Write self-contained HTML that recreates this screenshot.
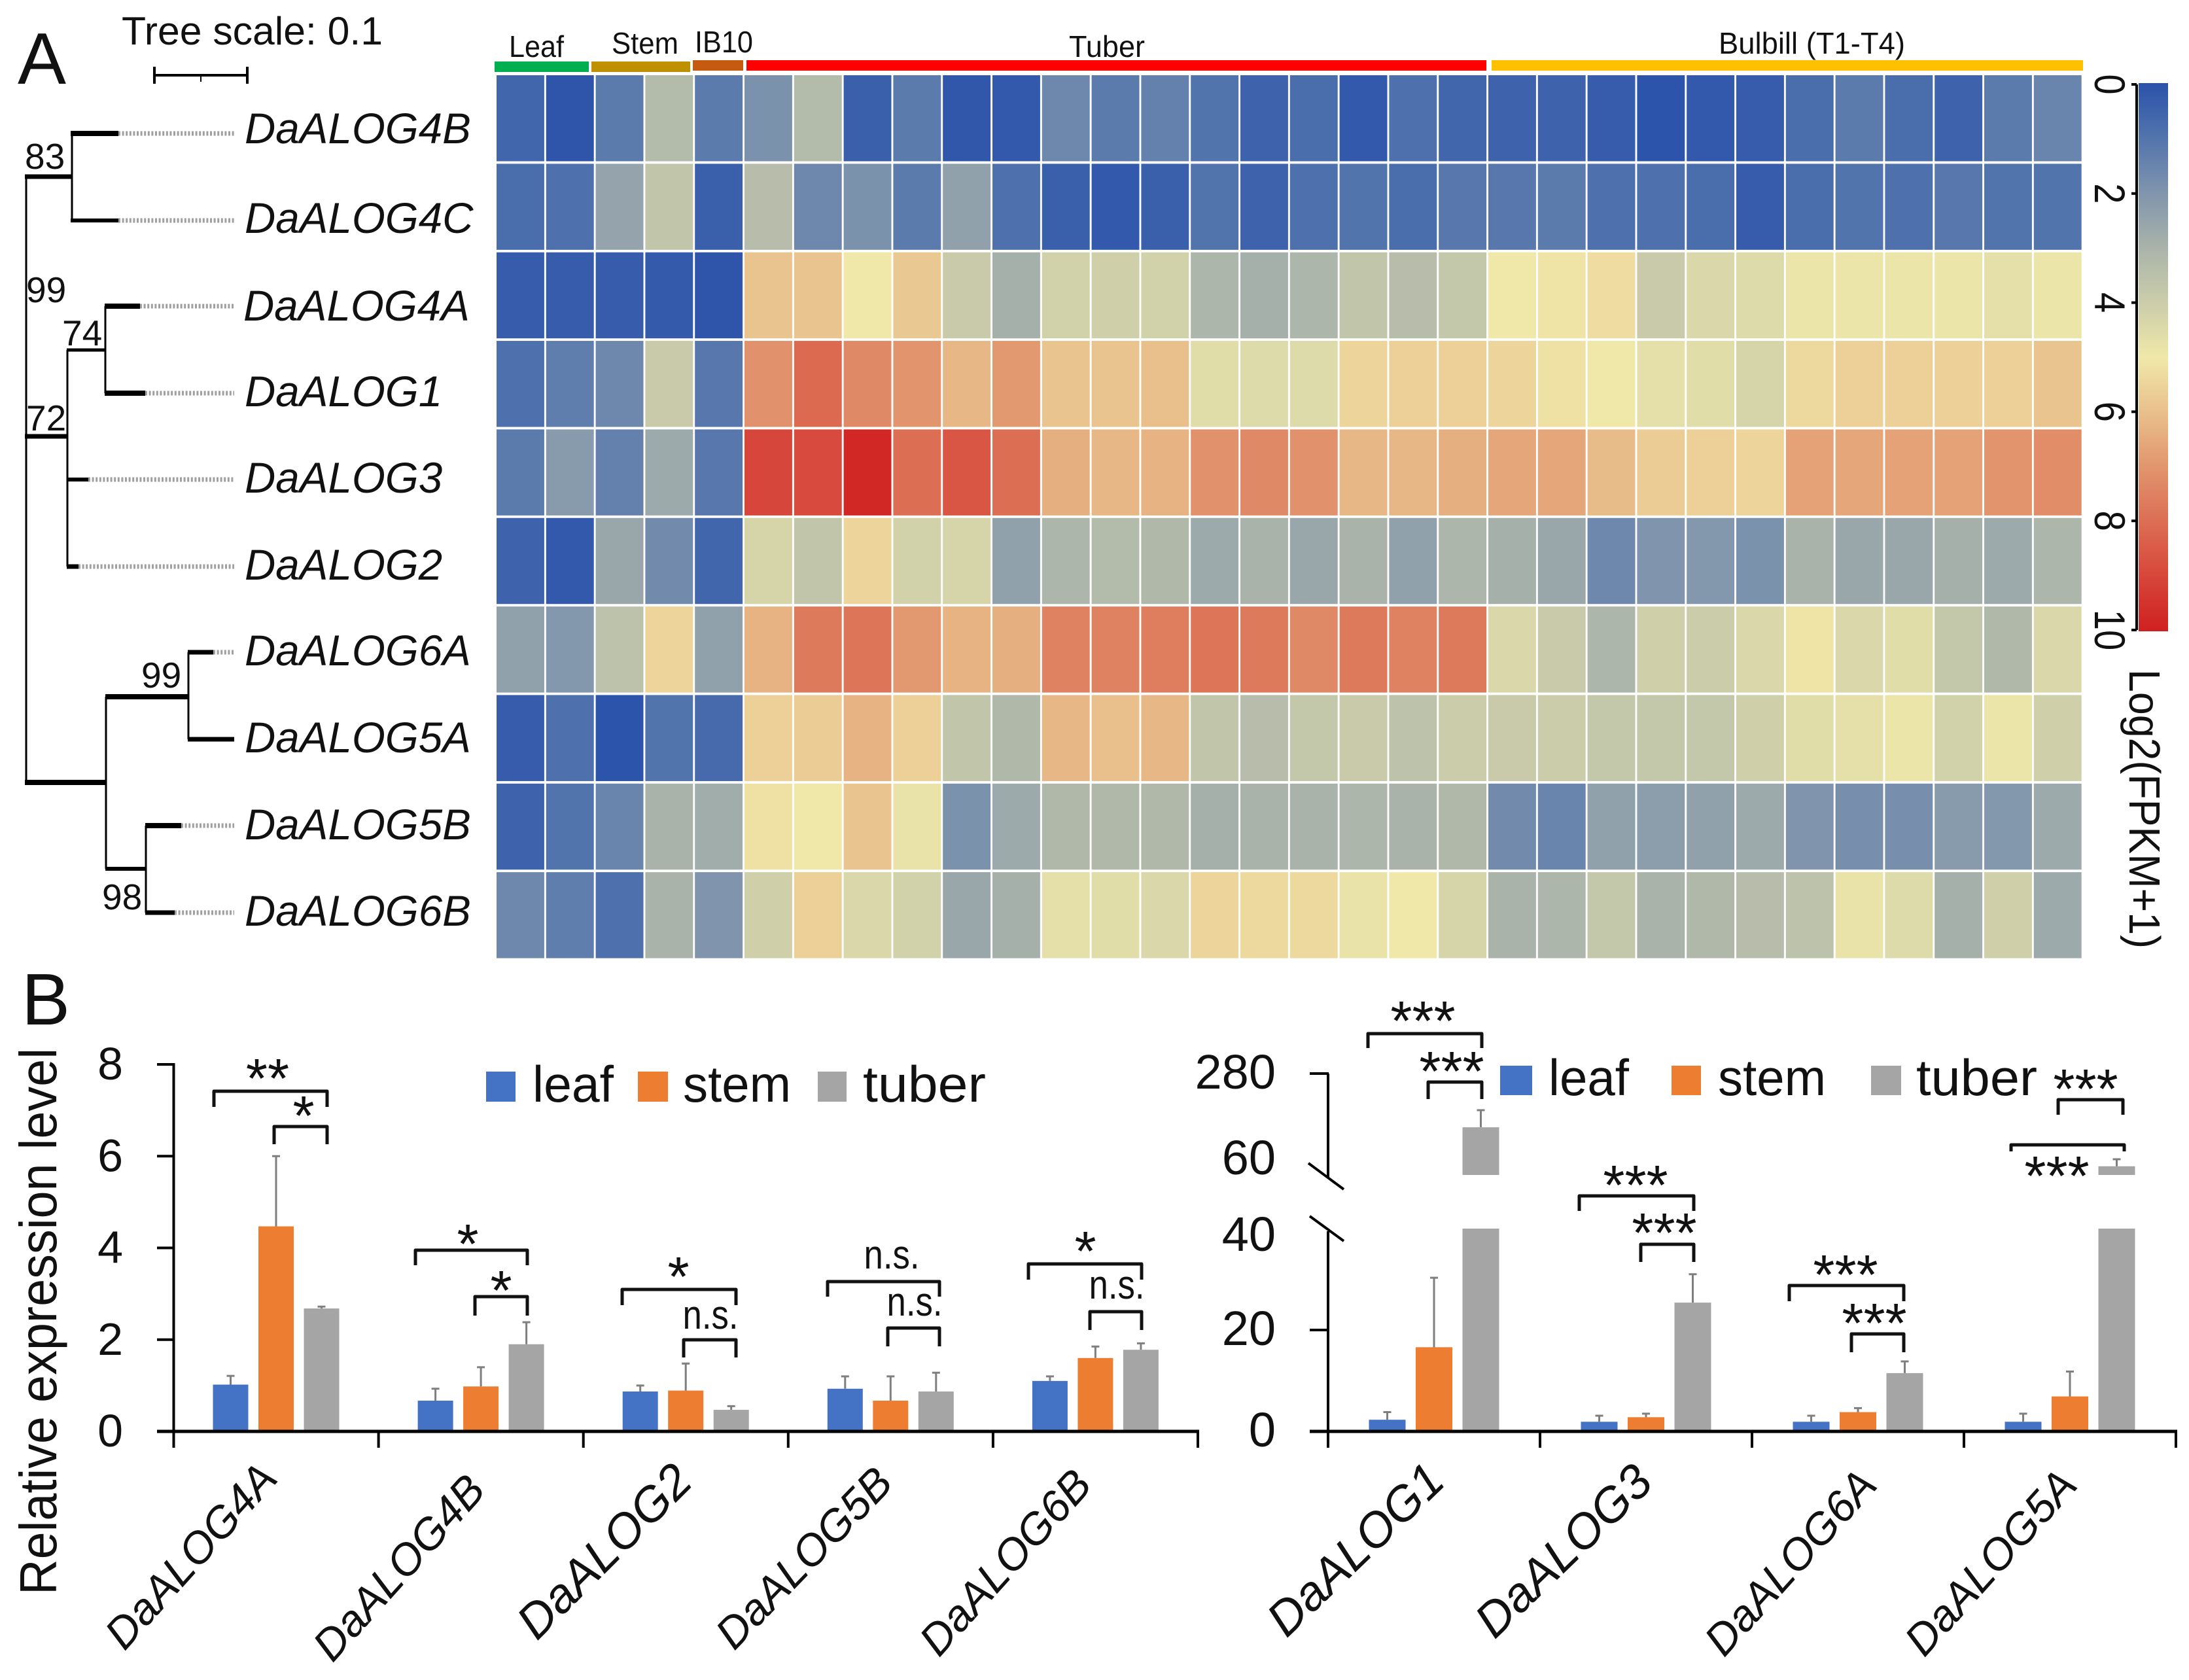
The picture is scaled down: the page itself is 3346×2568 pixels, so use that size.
<!DOCTYPE html>
<html lang="en">
<head>
<meta charset="utf-8">
<title>DaALOG expression figure</title>
<style>
html,body{margin:0;padding:0;background:#fff;}
svg{display:block;}
text{font-family:"Liberation Sans",sans-serif;fill:#111;}
.gene{font-style:italic;font-size:65.5px;}
.xlab{font-style:italic;font-size:67px;}
.xlab7{font-style:italic;font-size:74px;}
.boot{font-size:55px;}
.sig{font-size:85px;text-anchor:middle;}
.ns{font-size:62px;text-anchor:middle;}
.leg{font-size:78px;}
.groupl{font-size:46px;}
.brk{fill:none;stroke:#111;stroke-width:5;stroke-linejoin:round;}
.t{stroke:#000;fill:none;}
.d{stroke:#a0a0a0;stroke-width:7;stroke-dasharray:3 2.6;fill:none;}
</style>
</head>
<body>
<svg id="fig" xmlns="http://www.w3.org/2000/svg" width="3346" height="2568" viewBox="0 0 3346 2568">
<rect width="3346" height="2568" fill="#fff"/>
<defs><linearGradient id="cbGrad" x1="0" y1="0" x2="0" y2="1"></linearGradient></defs>

<text x="27" y="128" font-size="111">A</text>
<text x="186" y="68" font-size="60" textLength="399" lengthAdjust="spacingAndGlyphs">Tree scale: 0.1</text>
<g class="t">
<path d="M236 115H378M236 102V128M378 102V128" stroke-width="4"/><path d="M307 115V125" stroke-width="2"/>
</g>

<g>
<g class="t" stroke-width="3">
<path d="M40 270V1196M110 204V337M103 535V866M161 468V601M162 1065V1328M288 997V1130M223 1262V1395"/>
</g>
<g class="t">
<path d="M38 270H110" stroke-width="7"/>
<path d="M108 204H181" stroke-width="8"/>
<path d="M108 337H181" stroke-width="6"/>
<path d="M38 667H104" stroke-width="7"/>
<path d="M102 535H162" stroke-width="5"/>
<path d="M160 468H214" stroke-width="8"/>
<path d="M160 601H222" stroke-width="8"/>
<path d="M102 733H135" stroke-width="6"/>
<path d="M102 866H120" stroke-width="7"/>
<path d="M38 1196H163" stroke-width="8"/>
<path d="M161 1065H289" stroke-width="8"/>
<path d="M287 997H326" stroke-width="7"/>
<path d="M287 1130H358" stroke-width="7"/>
<path d="M161 1328H224" stroke-width="6"/>
<path d="M222 1262H277" stroke-width="8"/>
<path d="M222 1395H267" stroke-width="7"/>
</g>
<g class="d">
<path d="M181 204H358M181 337H358M214 468H358M222 601H358M135 733H358M120 866H358M326 997H358M277 1262H358M267 1395H358"/>
</g>
</g>

<g>
<text class="boot" x="38" y="258">83</text>
<text class="boot" x="40" y="462">99</text>
<text class="boot" x="95" y="528">74</text>
<text class="boot" x="40" y="658">72</text>
<text class="boot" x="216" y="1051">99</text>
<text class="boot" x="156" y="1390">98</text>
</g>

<g>
<text class="gene" x="374" y="219">DaALOG4B</text>
<text class="gene" x="374" y="356">DaALOG4C</text>
<text class="gene" x="372" y="490">DaALOG4A</text>
<text class="gene" x="374" y="621">DaALOG1</text>
<text class="gene" x="374" y="753">DaALOG3</text>
<text class="gene" x="374" y="886">DaALOG2</text>
<text class="gene" x="374" y="1017">DaALOG6A</text>
<text class="gene" x="374" y="1150">DaALOG5A</text>
<text class="gene" x="374" y="1283">DaALOG5B</text>
<text class="gene" x="374" y="1415">DaALOG6B</text>
</g>

<g>
<rect x="756" y="94" width="144" height="16" fill="#00b050"/>
<rect x="904" y="94" width="151" height="16" fill="#bf9000"/>
<rect x="1059" y="92" width="77" height="16" fill="#c55a11"/>
<rect x="1141" y="92" width="1131" height="16" fill="#ff0000"/>
<rect x="2280" y="92" width="904" height="16" fill="#ffc000"/>
<text class="groupl" x="778" y="87" textLength="84" lengthAdjust="spacingAndGlyphs">Leaf</text>
<text class="groupl" x="935" y="82" textLength="102" lengthAdjust="spacingAndGlyphs">Stem</text>
<text class="groupl" x="1062" y="80" textLength="89" lengthAdjust="spacingAndGlyphs">IB10</text>
<text class="groupl" x="1634" y="87" textLength="116" lengthAdjust="spacingAndGlyphs">Tuber</text>
<text class="groupl" x="2627" y="82" textLength="285" lengthAdjust="spacingAndGlyphs">Bulbill (T1-T4)</text>
</g>

<g id="heatmap"></g>
<g id="colorbar"></g>
<text transform="translate(3255,1023) rotate(90)" font-size="67" textLength="427" lengthAdjust="spacingAndGlyphs">Log2(FPKM+1)</text>

<text x="33" y="1566" font-size="111">B</text>
<text transform="translate(86,2438) rotate(-90)" font-size="80" textLength="836" lengthAdjust="spacingAndGlyphs">Relative expression level</text>

<g id="chartL"></g>
<g id="chartR"></g>

<g>
<text class="xlab" text-anchor="end" transform="translate(427,2262) rotate(-48)">DaALOG4A</text>
<text class="xlab" text-anchor="end" transform="translate(745,2280) rotate(-48)">DaALOG4B</text>
<text class="xlab7" text-anchor="end" transform="translate(1062,2268) rotate(-45)">DaALOG2</text>
<text class="xlab" text-anchor="end" transform="translate(1368,2270) rotate(-46)">DaALOG5B</text>
<text class="xlab" text-anchor="end" transform="translate(1672,2272) rotate(-48)">DaALOG6B</text>
</g>
<g>
<text class="xlab7" text-anchor="end" transform="translate(2212,2268) rotate(-44)">DaALOG1</text>
<text class="xlab7" text-anchor="end" transform="translate(2530,2270) rotate(-44)">DaALOG3</text>
<text class="xlab" text-anchor="end" transform="translate(2872,2272) rotate(-48)">DaALOG6A</text>
<text class="xlab" text-anchor="end" transform="translate(3178,2272) rotate(-48)">DaALOG5A</text>
</g>

<g>
<rect x="743" y="1638" width="45" height="46" fill="#4472c4"/>
<text class="leg" x="814" y="1684" textLength="124" lengthAdjust="spacingAndGlyphs">leaf</text>
<rect x="975" y="1638" width="46" height="46" fill="#ed7d31"/>
<text class="leg" x="1044" y="1684" textLength="165" lengthAdjust="spacingAndGlyphs">stem</text>
<rect x="1250" y="1638" width="44" height="46" fill="#a5a5a5"/>
<text class="leg" x="1319" y="1684" textLength="188" lengthAdjust="spacingAndGlyphs">tuber</text>
</g>
<g>
<rect x="2293" y="1629" width="49" height="45" fill="#4472c4"/>
<text class="leg" x="2367" y="1674" textLength="123" lengthAdjust="spacingAndGlyphs">leaf</text>
<rect x="2555" y="1629" width="45" height="45" fill="#ed7d31"/>
<text class="leg" x="2626" y="1674" textLength="165" lengthAdjust="spacingAndGlyphs">stem</text>
<rect x="2860" y="1629" width="46" height="45" fill="#a5a5a5"/>
<text class="leg" x="2929" y="1674" textLength="185" lengthAdjust="spacingAndGlyphs">tuber</text>
</g>

<g>
<polyline class="brk" points="327,1692 327,1668 500,1668 500,1692"/>
<text class="sig" x="409" y="1678">**</text>
<polyline class="brk" points="419,1749 419,1722 500,1722 500,1749"/>
<text class="sig" x="464" y="1735">*</text>
<polyline class="brk" points="635,1934 635,1911 806,1911 806,1934"/>
<text class="sig" x="715" y="1931">*</text>
<polyline class="brk" points="726,2011 726,1982 806,1982 806,2011"/>
<text class="sig" x="766" y="2002">*</text>
<polyline class="brk" points="951,1995 951,1971 1125,1971 1125,1995"/>
<text class="sig" x="1037" y="1981">*</text>
<polyline class="brk" points="1045,2075 1045,2048 1125,2048 1125,2075"/>
<text class="ns" x="1086" y="2031" textLength="85" lengthAdjust="spacingAndGlyphs">n.s.</text>
<polyline class="brk" points="1265,1982 1265,1959 1436,1959 1436,1982"/>
<text class="ns" x="1363" y="1939" textLength="85" lengthAdjust="spacingAndGlyphs">n.s.</text>
<polyline class="brk" points="1357,2058 1357,2030 1436,2030 1436,2058"/>
<text class="ns" x="1398" y="2011" textLength="85" lengthAdjust="spacingAndGlyphs">n.s.</text>
<polyline class="brk" points="1572,1956 1572,1932 1745,1932 1745,1956"/>
<text class="sig" x="1659" y="1942">*</text>
<polyline class="brk" points="1666,2033 1666,2005 1745,2005 1745,2033"/>
<text class="ns" x="1707" y="1985" textLength="85" lengthAdjust="spacingAndGlyphs">n.s.</text>
</g>

<g>
<polyline class="brk" points="2091,1602 2091,1580 2265,1580 2265,1602"/>
<text class="sig" x="2175" y="1590">***</text>
<polyline class="brk" points="2183,1680 2183,1654 2265,1654 2265,1680"/>
<text class="sig" x="2219" y="1667">***</text>
<polyline class="brk" points="2414,1851 2414,1828 2589,1828 2589,1851"/>
<text class="sig" x="2500" y="1841">***</text>
<polyline class="brk" points="2508,1929 2508,1902 2589,1902 2589,1929"/>
<text class="sig" x="2544" y="1914">***</text>
<polyline class="brk" points="2735,1989 2735,1965 2910,1965 2910,1989"/>
<text class="sig" x="2821" y="1978">***</text>
<polyline class="brk" points="2830,2067 2830,2039 2910,2039 2910,2067"/>
<text class="sig" x="2865" y="2052">***</text>
<polyline class="brk" points="3146,1704 3146,1681 3245,1681 3245,1704"/>
<text class="sig" x="3188" y="1694">***</text>
<polyline class="brk" points="3074,1760 3074,1750 3247,1750 3247,1760"/>
<text class="sig" x="3144" y="1827">***</text>
</g>

<script>
const heatRow4B = [0.6,0.1,1.2,3.3,1.2,1.9,3.3,0.4,1.2,0.15,0.2,1.6,1.2,1.4,1.0,0.5,0.8,0.2,0.9,0.6,0.5,0.5,0.3,0.05,0.2,0.3,0.8,1.2,0.8,0.5,1.2,1.5];
const heatRow4C = [0.8,0.9,2.5,3.7,0.4,3.4,1.6,1.9,1.2,2.4,0.9,0.4,0.2,0.4,1.0,0.5,0.9,1.0,0.8,1.1,1.1,1.2,0.9,0.9,0.8,0.3,0.8,1.0,0.9,1.1,1.0,1.0];
const heatRow4A = [0.3,0.3,0.3,0.25,0.1,5.9,5.9,5.0,5.8,3.9,2.9,4.2,4.1,4.2,3.1,2.9,3.1,3.7,3.4,3.8,5.0,5.1,5.3,3.9,4.4,4.5,4.9,4.9,4.9,4.9,4.7,4.9];
const heatRow1 = [0.9,1.3,1.6,3.9,1.1,7.1,8.1,7.3,7.0,6.2,6.9,5.9,5.9,6.0,4.6,4.5,4.5,5.5,5.6,5.6,5.5,5.2,5.0,4.7,4.6,4.3,5.4,5.6,5.6,5.6,5.6,5.9];
const heatRow3 = [1.2,2.2,1.4,2.7,1.1,9.0,8.9,9.8,8.0,8.6,8.0,6.4,6.2,6.3,7.1,7.3,7.1,6.2,6.2,6.4,6.6,6.6,6.1,5.7,5.6,5.5,6.7,6.6,6.7,6.7,7.0,7.2];
const heatRow2 = [0.5,0.2,2.6,1.7,0.6,4.3,3.7,5.5,4.2,4.3,2.4,3.1,3.3,3.2,2.7,3.0,2.6,3.0,2.4,3.1,2.9,2.6,1.6,2.0,2.1,1.9,3.0,2.6,2.6,2.9,2.7,3.1];
const heatRow6A = [2.4,2.1,3.6,5.5,2.4,6.3,7.7,7.8,6.9,6.3,6.4,7.5,7.5,7.6,7.8,7.7,7.3,7.7,7.5,7.7,4.4,3.9,3.1,4.1,4.0,4.4,5.1,4.4,4.6,3.8,3.2,4.4];
const heatRow5A = [0.3,0.9,0.05,1.0,0.7,5.6,5.7,6.3,5.6,3.7,3.2,6.2,6.0,6.2,3.7,3.4,3.8,3.9,3.6,4.0,3.9,4.0,3.8,3.8,3.8,4.1,4.6,4.7,4.9,4.2,4.9,4.1];
const heatRow5B = [0.5,1.0,1.5,3.0,2.8,5.2,5.0,5.9,4.8,1.9,2.7,3.2,3.2,3.2,2.9,3.0,3.0,3.1,3.0,3.2,1.7,1.5,2.4,2.3,2.4,2.7,2.0,1.8,1.8,2.2,2.1,2.7];
const heatRow6B = [1.6,1.3,0.9,3.0,2.0,4.1,5.6,4.4,4.2,2.6,2.9,4.7,4.6,4.4,5.5,5.4,5.4,4.8,5.0,4.3,3.0,3.1,3.8,3.0,3.2,3.4,3.6,4.8,4.5,2.9,4.1,2.7];
const heatRows = [heatRow4B,heatRow4C,heatRow4A,heatRow1,heatRow3,heatRow2,heatRow6A,heatRow5A,heatRow5B,heatRow6B];
const heatGenes = ['4b','4c','4a','1','3','2','6a','5a','5b','6b'];
const cmapColors = ['#2a52aa','#5274ad','#8095ad','#a9b3aa','#cbcdaa','#f0e8a9','#e9c08c','#e2956d','#dc6e54','#d7463a','#cf2020'];
const colorbarTicks = ['0','2','4','6','8','10'];

const leftCategories = ['DaALOG4A','DaALOG4B','DaALOG2','DaALOG5B','DaALOG6B'];
const leftLeaf = [1.02,0.67,0.87,0.93,1.1];
const leftStem = [4.47,0.98,0.89,0.67,1.6];
const leftTuber = [2.68,1.9,0.47,0.87,1.78];
const leftLeafErrTop = [1.21,0.93,1.0,1.2,1.2];
const leftStemErrTop = [6.0,1.4,1.48,1.2,1.85];
const leftTuberErrTop = [2.72,2.38,0.55,1.28,1.92];
const leftYTicks = [0,2,4,6,8];

const rightCategories = ['DaALOG1','DaALOG3','DaALOG6A','DaALOG5A'];
const rightLeaf = [2.3,1.9,1.9,1.9];
const rightStem = [16.6,2.8,3.8,6.9];
const rightTuber = [142,25.4,11.5,42];
const rightLeafErrTop = [3.8,3.1,3.1,3.5];
const rightStemErrTop = [30.3,3.5,4.6,11.8];
const rightTuberErrTop = [186,31,13.8,60];
const rightYTicks = [0,20,40,60,280];

const NS = 'http://www.w3.org/2000/svg';
function mk(tag, parent, attrs){
  const el = document.createElementNS(NS, tag);
  for (const k in attrs) el.setAttribute(k, attrs[k]);
  parent.appendChild(el);
  return el;
}
function hex(c){return [1,3,5].map(i=>parseInt(c.substr(i,2),16));}
function heatColor(v){
  const t = Math.max(0,Math.min(10,v));
  const i = Math.min(9,Math.floor(t));
  const f = t-i;
  const a = hex(cmapColors[i]), b = hex(cmapColors[i+1]);
  return 'rgb('+a.map((x,k)=>Math.round(x+(b[k]-x)*f)).join(',')+')';
}

/* heatmap */
const heatG = document.getElementById('heatmap');
const hx = j => 759 + j*75.8;
const hy = i => 115 + i*135.35;
heatRows.forEach((row,i)=>{
  row.forEach((v,j)=>{
    const r = mk('rect', heatG, {x:hx(j), y:hy(i), width:72.9, height:131.5, fill:heatColor(v)});
    
    
  });
});

/* colorbar */
const grad = document.getElementById('cbGrad');
cmapColors.forEach((c,i)=>{
  mk('stop', grad, {offset:(i/(cmapColors.length-1)), 'stop-color':c});
});
const cbG = document.getElementById('colorbar');
const cbY = v => 129 + v*83.4;
const cbRect = mk('rect', cbG, {x:3269, y:cbY(0)-2, width:45, height:cbY(10)-cbY(0)+4, fill:'url(#cbGrad)'});


const cbAxis = mk('line', cbG, {x1:3266, x2:3266, y1:cbY(0), y2:cbY(10), stroke:'#000', 'stroke-width':4});


colorbarTicks.forEach(t=>{
  const v = +t;
  const tick = mk('line', cbG, {x1:3258, x2:3266, y1:cbY(v), y2:cbY(v), stroke:'#000', 'stroke-width':4});
  
  
  const lab = mk('text', cbG, {transform:'translate(3202,'+cbY(v)+') rotate(90) scale(0.85,1)', 'font-size':66, 'text-anchor':'middle'});
  lab.textContent = t;
  
  
});

const seriesColors = ['#4472c4','#ed7d31','#a5a5a5'];
const seriesNames = ['leaf','stem','tuber'];

function errBar(g, x, y1, y2, capHalf){
  const e = mk('path', g, {d:'M'+x+' '+y1+'V'+y2+'M'+(x-capHalf)+' '+y2+'H'+(x+capHalf), stroke:'#7f7f7f', 'stroke-width':3, fill:'none'});
  
  
}

/* left chart */
const lG = document.getElementById('chartL');
const yL = v => 2188 - v*70.12;
const xLc = i => 265.5 + i*313.1;
const lSeries = [leftLeaf,leftStem,leftTuber];
const lErr = [leftLeafErrTop,leftStemErrTop,leftTuberErrTop];
lSeries.forEach((s,k)=>{
  s.forEach((v,i)=>{
    const cx = xLc(i)+156.5+(k-1)*69.5;
    const b = mk('rect', lG, {x:cx-27, y:yL(v), width:54, height:yL(0)-yL(v), fill:seriesColors[k]});
    
    
    errBar(lG, cx, yL(v), yL(lErr[k][i]), 6);
  });
});
const lyAxis = mk('line', lG, {x1:265.5, x2:265.5, y1:yL(8)-2, y2:2213, stroke:'#000', 'stroke-width':4});


const lxAxis = mk('line', lG, {x1:240, x2:1833, y1:yL(0), y2:yL(0), stroke:'#000', 'stroke-width':5});


leftYTicks.forEach(v=>{
  const t = mk('line', lG, {x1:240, x2:266, y1:yL(v), y2:yL(v), stroke:'#000', 'stroke-width':4});
  
  
  const l = mk('text', lG, {x:188, y:yL(v)+23, 'font-size':70, 'text-anchor':'end'});
  l.textContent = v;
  
  
});
for (let i=0;i<=leftCategories.length;i++){
  const t = mk('line', lG, {x1:xLc(i), x2:xLc(i), y1:yL(0), y2:2213, stroke:'#000', 'stroke-width':4});
  
  
}

/* right chart with broken axis */
const rG = document.getElementById('chartR');
const breakAt = 40;
const upperBase = 1796;
const yR = v => 2188 - v*7.75;
const yU = v => 1772 - (v-60)*(131/220);
const xRc = i => 2030 + i*324;
const rSeries = [rightLeaf,rightStem,rightTuber];
const rErr = [rightLeafErrTop,rightStemErrTop,rightTuberErrTop];
const yAny = v => v > breakAt ? yU(v) : yR(v);
rSeries.forEach((s,k)=>{
  s.forEach((v,i)=>{
    const cx = xRc(i)+162+(k-1)*71.5;
    const low = Math.min(v,breakAt);
    const b = mk('rect', rG, {x:cx-28, y:yR(low), width:56, height:yR(0)-yR(low), fill:seriesColors[k]});
    
    
    if (v > breakAt){
      const u = mk('rect', rG, {x:cx-28, y:yU(v), width:56, height:upperBase-yU(v), fill:seriesColors[k]});
      
      
    }
    errBar(rG, cx, yAny(v), yAny(rErr[k][i]), 6);
  });
});
const rAxis = mk('path', rG, {d:'M2030 2213V1882M2002 1859L2054 1897M2000 1778L2054 1818M2030 1800V1641', stroke:'#000', 'stroke-width':4, fill:'none'});


const rxAxis = mk('line', rG, {x1:2002, x2:3328, y1:yR(0), y2:yR(0), stroke:'#000', 'stroke-width':5});


rightYTicks.forEach(v=>{
  const y = v > breakAt ? yU(v) : yR(v);
  if (v !== 40 && v !== 60){
    const t = mk('line', rG, {x1:2002, x2:2031, y1:y, y2:y, stroke:'#000', 'stroke-width':4});
    
    
  }
  const l = mk('text', rG, {x:1950, y:y+23+(v===40?11:0), 'font-size':74, 'text-anchor':'end'});
  l.textContent = v;
  
  
});
for (let i=0;i<=rightCategories.length;i++){
  const t = mk('line', rG, {x1:xRc(i), x2:xRc(i), y1:yR(0), y2:2213, stroke:'#000', 'stroke-width':4});
  
  
}
</script>
</svg>
</body>
</html>
